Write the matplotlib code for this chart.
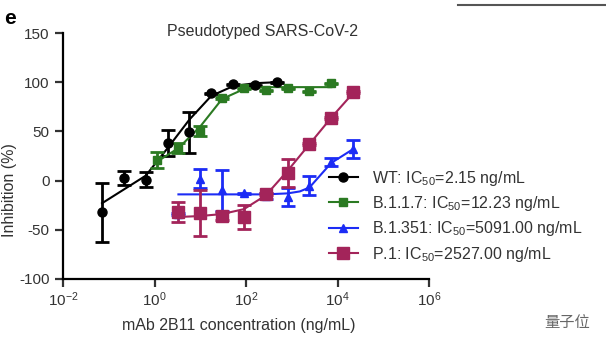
import numpy as np
import matplotlib
matplotlib.use('Agg')
import matplotlib.pyplot as plt
from matplotlib.lines import Line2D

plt.rcParams['font.family'] = ['Liberation Sans', 'DejaVu Sans']
plt.rcParams['mathtext.fontset'] = 'custom'
plt.rcParams['mathtext.rm'] = 'Liberation Sans'
plt.rcParams['mathtext.it'] = 'Liberation Sans:italic'
plt.rcParams['axes.unicode_minus'] = False

# WT
wt_x = [0.0713, 0.214, 0.642, 1.93, 5.78, 17.3, 52, 156, 468]
wt_y = [-32, 3, 1, 38, 49, 89, 98, 97, 100]
wt_err = [30, 7, 8, 13, 21, 0.5, 0.5, 0.5, 0.5]
wt_fit_x = [0.0713, 0.214, 0.642, 1.93, 5.78, 17.3, 52, 156, 468]
wt_fit_y = [-23, -9, 5, 33, 62, 86, 96, 99, 100]

# B.1.1.7
b117_x = [1.11, 3.33, 10, 30, 90, 270, 811, 2433, 7300]
b117_y = [21, 33, 50, 84, 94, 92, 94, 91, 99]
b117_err = [8, 5, 5, 1, 0.5, 0.5, 0.5, 0.5, 0.5]
b117_fit_x = [1.11, 3.33, 10, 30, 90, 270, 811, 2433, 7300]
b117_fit_y = [19, 33, 55, 83, 93, 95, 95, 95, 95]

# B.1.351
b1351_x = [3.33, 10, 30, 90, 270, 811, 2433, 7300, 21900]
b1351_y = [-34, 2, -10, -13, -16, -17, -5, 19, 32]
b1351_err = [1, 10, 21, 0.5, 3, 9, 10, 4, 9]
b1351_fit_x = [3.33, 10, 30, 90, 270, 811, 1500, 2433, 7300, 21900]
b1351_fit_y = [-14, -14, -14, -14, -14, -13, -11, -7, 18, 32]

# P.1
p1_x = [3.33, 10, 30, 90, 270, 811, 2433, 7300, 21900]
p1_y = [-32, -33, -36, -37, -14, 8, 37, 64, 90]
p1_err = [10, 23, 4, 12, 1, 14, 1, 1, 1]
p1_fit_x = [3.33, 10, 30, 90, 270, 811, 2433, 7300, 21900]
p1_fit_y = [-37, -36, -34, -29, -15, 10, 37, 64, 89]

labels = ['WT: IC$_{50}$=2.15 ng/mL',
          'B.1.1.7: IC$_{50}$=12.23 ng/mL',
          'B.1.351: IC$_{50}$=5091.00 ng/mL',
          'P.1: IC$_{50}$=2527.00 ng/mL']

fig = plt.figure(figsize=(6.06, 3.44), dpi=100)
ax = fig.add_axes([0.104, 0.189, 0.604, 0.715])

series = [
    (wt_x, wt_y, wt_err, wt_fit_x, wt_fit_y, 'black', 'o', 6.5),
    (b117_x, b117_y, b117_err, b117_fit_x, b117_fit_y, '#2b7a22', 's', 6),
    (b1351_x, b1351_y, b1351_err, b1351_fit_x, b1351_fit_y, '#1c2cf5', '^', 6),
    (p1_x, p1_y, p1_err, p1_fit_x, p1_fit_y, '#a3245a', 's', 8),
]
handles = []
for (x, y, e, fx, fy, c, m, ms), lab in zip(series, labels):
    ax.plot(fx, fy, color=c, lw=1.5)
    ax.errorbar(x, y, yerr=e, fmt=m, color=c, ms=ms, elinewidth=2,
                capsize=5, capthick=2, ls='none')
    handles.append(Line2D([], [], color=c, marker=m, ms=ms, lw=1.5))

ax.set_xscale('log')
ax.set_xlim(1e-2, 1e6)
ax.set_ylim(-100, 150)
ax.set_xticks([1e-2, 1e0, 1e2, 1e4, 1e6])
ax.set_xticklabels(['$10^{-2}$', '$10^{0}$', '$10^{2}$', '$10^{4}$', '$10^{6}$'])
ax.xaxis.set_minor_locator(matplotlib.ticker.NullLocator())
ax.set_yticks([-100, -50, 0, 50, 100, 150])
for s in ['top', 'right']:
    ax.spines[s].set_visible(False)
for s in ['left', 'bottom']:
    ax.spines[s].set_linewidth(1.6)
ax.tick_params(width=1.6, length=6, labelsize=11, colors='#333333')
ax.tick_params(axis='x', pad=2)
ax.set_xlabel('mAb 2B11 concentration (ng/mL)', fontsize=11.5, color='#333333')
ax.set_ylabel('Inhibition (%)', fontsize=11.5, color='#333333')
ax.yaxis.set_label_coords(-0.125, 0.36)
ax.xaxis.set_label_coords(0.48, -0.16)
ax.set_title('Pseudotyped SARS-CoV-2', fontsize=11.5, color='#333333', x=0.545, y=0.955)

fig.legend(handles, labels, loc='upper left', bbox_to_anchor=(0.543, 0.51),
           frameon=False, fontsize=11.5, handlelength=1.8, handletextpad=0.9,
           labelspacing=0.4, borderpad=0, borderaxespad=0, labelcolor='#333333')

fig.text(0.006, 0.93, 'e', fontsize=15, fontweight='bold')
fig.add_artist(Line2D([0.755, 1.0], [0.985, 0.985], color='#555555', lw=1.5))
fig.text(0.898, 0.05, '量子位', fontsize=11, color='#666666',
         family=['Noto Sans CJK SC', 'DejaVu Sans'])

fig.savefig('out.png', dpi=100)
